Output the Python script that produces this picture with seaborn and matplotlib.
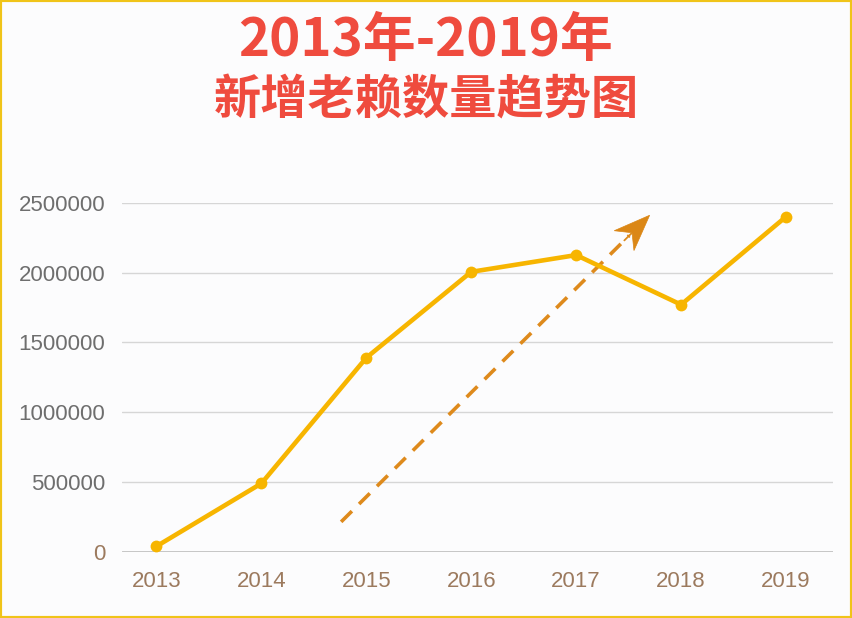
import matplotlib
matplotlib.use("Agg")
import matplotlib.pyplot as plt
from matplotlib.patches import Rectangle, FancyArrow
from matplotlib.transforms import IdentityTransform
import seaborn as sns
import pandas as pd
import numpy as np

years = ["2013", "2014", "2015", "2016", "2017", "2018", "2019"]
new_debtors = [40000, 490000, 1390000, 2005000, 2125000, 1770000, 2400000]
y_ticks = [0, 500000, 1000000, 1500000, 2000000, 2500000]
title_1 = "2013年-2019年"
title_2 = "新增老赖数量趋势图"

# trend arrow (index on x axis, value on y axis)
arrow_start = (1.76, 215000)
arrow_end = (4.70, 2410000)

sns.set_theme(style="white")
plt.rcParams['font.family'] = ['Noto Sans CJK SC', 'DejaVu Sans']

df = pd.DataFrame({"idx": np.arange(len(years)), "value": new_debtors})

fig = plt.figure(figsize=(8.52, 6.18), dpi=100)
fig.patch.set_facecolor("#FCFCFD")
ax = fig.add_axes([0.143, 0.107, 0.835, 0.565])
ax.set_facecolor("#FCFCFD")

sns.lineplot(data=df, x="idx", y="value", ax=ax, color="#F7B500", linewidth=3.3,
             marker="o", markersize=8.5, markeredgewidth=0, clip_on=False, zorder=4)

ax.set_xlim(-0.33, 6.45)
ax.set_ylim(0, 2500000)

# dashed trend arrow: head drawn in pixel space so its shape is not skewed
p0 = ax.transData.transform(arrow_start)
p1 = ax.transData.transform(arrow_end)
d = (p1 - p0) / np.hypot(*(p1 - p0))
head_len = 36
base = p1 - d * head_len * 0.8
base_data = ax.transData.inverted().transform(base)
ax.plot([arrow_start[0], base_data[0]], [arrow_start[1], base_data[1]], color="#DE8A1C",
        linewidth=2.6, linestyle=(0, (4.2, 2.8)), zorder=3, clip_on=False)
tail = p1 - d * head_len
ax.add_artist(FancyArrow(tail[0], tail[1], d[0] * head_len, d[1] * head_len,
                         width=1, head_width=28, head_length=head_len, overhang=0.3,
                         length_includes_head=True, facecolor="#DB8716",
                         edgecolor="#DB8716", lw=0.5,
                         transform=IdentityTransform(), zorder=3, clip_on=False))

ax.set_xticks(df["idx"])
ax.set_xticklabels(years)
ax.set_yticks(y_ticks)
ax.set_yticklabels([str(v) for v in y_ticks])
ax.set_xlabel("")
ax.set_ylabel("")

for s in ["top", "right", "left", "bottom"]:
    ax.spines[s].set_visible(False)
ax.yaxis.grid(True, color="#D6D6D6", linewidth=1)
ax.axhline(0, color="#C2C2C2", linewidth=2, zorder=2)
ax.tick_params(axis="both", length=0, labelsize=16)
ax.tick_params(axis="y", pad=12, labelcolor="#6E6E6E")
ax.tick_params(axis="x", pad=14, labelcolor="#9C7A5E")
ax.get_yticklabels()[0].set_color("#9C7A5E")
for lab in ax.get_xticklabels() + ax.get_yticklabels():
    lab.set_family(["Liberation Sans", "DejaVu Sans"])

fig.text(0.5, 0.935, title_1, ha="center", va="center", fontsize=38,
         fontweight="heavy", color="#EF4B3E")
fig.text(0.5, 0.837, title_2, ha="center", va="center", fontsize=34,
         fontweight="heavy", color="#EF4B3E")

fig.patches.append(Rectangle((0, 0), 1, 1, transform=fig.transFigure, fill=False,
                             edgecolor="#F0C419", linewidth=3))

plt.savefig("out.png", dpi=100, facecolor=fig.get_facecolor())
